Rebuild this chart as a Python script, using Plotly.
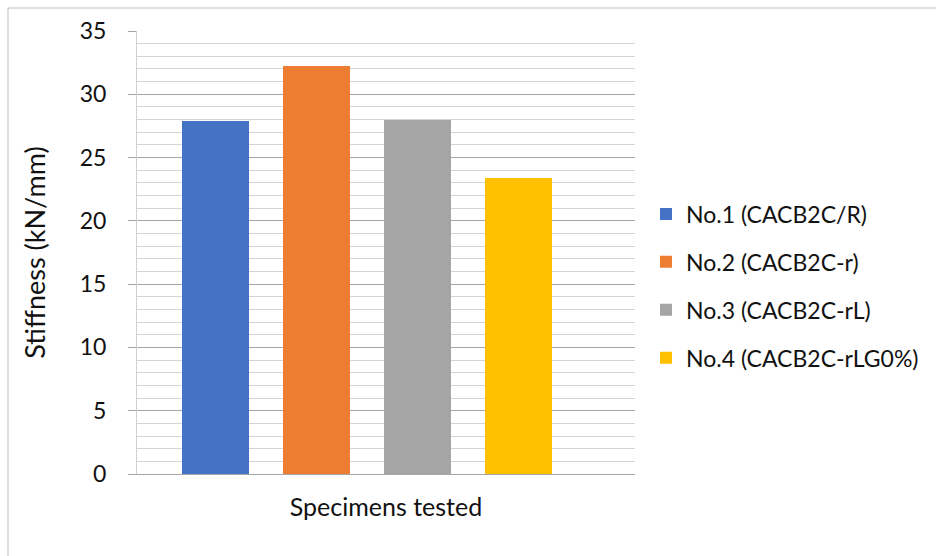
import plotly.graph_objects as go

# Stiffness of each tested specimen (kN/mm)
specimens = ["No.1 (CACB2C/R)", "No.2 (CACB2C-r)", "No.3 (CACB2C-rL)", "No.4 (CACB2C-rLG0%)"]
stiffness = [27.9, 32.2, 28.0, 23.4]
colors = ["#4472C4", "#ED7D31", "#A5A5A5", "#FFC000"]
y_ticks = [0, 5, 10, 15, 20, 25, 30, 35]

FONT = "Lato"
W, H = 936, 556
L, R, T, B = 137, 635, 31, 474  # plot area in px

fig = go.Figure()
for i, (name, val, col) in enumerate(zip(specimens, stiffness, colors)):
    fig.add_trace(go.Bar(
        x=[i], y=[val], name=name, width=0.66,
        marker=dict(color=col, line=dict(width=0)),
        legendgroup=name,
    ))

# outer chart frame (top and left edges visible)
px = lambda v: (v - L) / (R - L)
py = lambda v: (B - v) / (B - T)
fig.add_shape(type="rect", xref="paper", yref="paper",
              x0=px(8), x1=px(1200), y0=py(900), y1=py(8),
              line=dict(color="#bfbfbf", width=1), fillcolor="rgba(0,0,0,0)", layer="below")

fig.update_layout(
    width=W, height=H,
    margin=dict(l=L, r=W - R, t=T, b=H - B, pad=0),
    paper_bgcolor="white", plot_bgcolor="white",
    font=dict(family=FONT, color="#111"),
    bargap=0,
    showlegend=True,
    legend=dict(
        x=px(646), y=py(286), xanchor="left", yanchor="middle",
        font=dict(family=FONT, size=23, color="#111"),
        tracegroupgap=15, bgcolor="rgba(0,0,0,0)",
    ),
    xaxis=dict(
        range=[-0.777, 4.153], showticklabels=False, ticks="",
        showgrid=False, zeroline=False, showline=True,
        linecolor="#a6a6a6", linewidth=1.3,
        title=dict(text="Specimens tested", font=dict(family=FONT, size=25, color="#111"), standoff=24),
    ),
    yaxis=dict(
        range=[0, 35], tickvals=y_ticks, ticks="outside", ticklen=8,
        tickcolor="#a6a6a6", tickwidth=1.3,
        tickfont=dict(family=FONT, size=23, color="#111"),
        ticklabelstandoff=17,
        showgrid=True, gridcolor="#a6a6a6", gridwidth=1.3,
        zeroline=False, showline=True, linecolor="#d0d0d0", linewidth=1,
        minor=dict(dtick=1, showgrid=True, gridcolor="#d4d4d4", gridwidth=1.3, ticks=""),
        title=dict(text="Stiffness (kN/mm)", font=dict(family=FONT, size=27, color="#111"), standoff=26),
    ),
)

fig.write_html("out.html")
